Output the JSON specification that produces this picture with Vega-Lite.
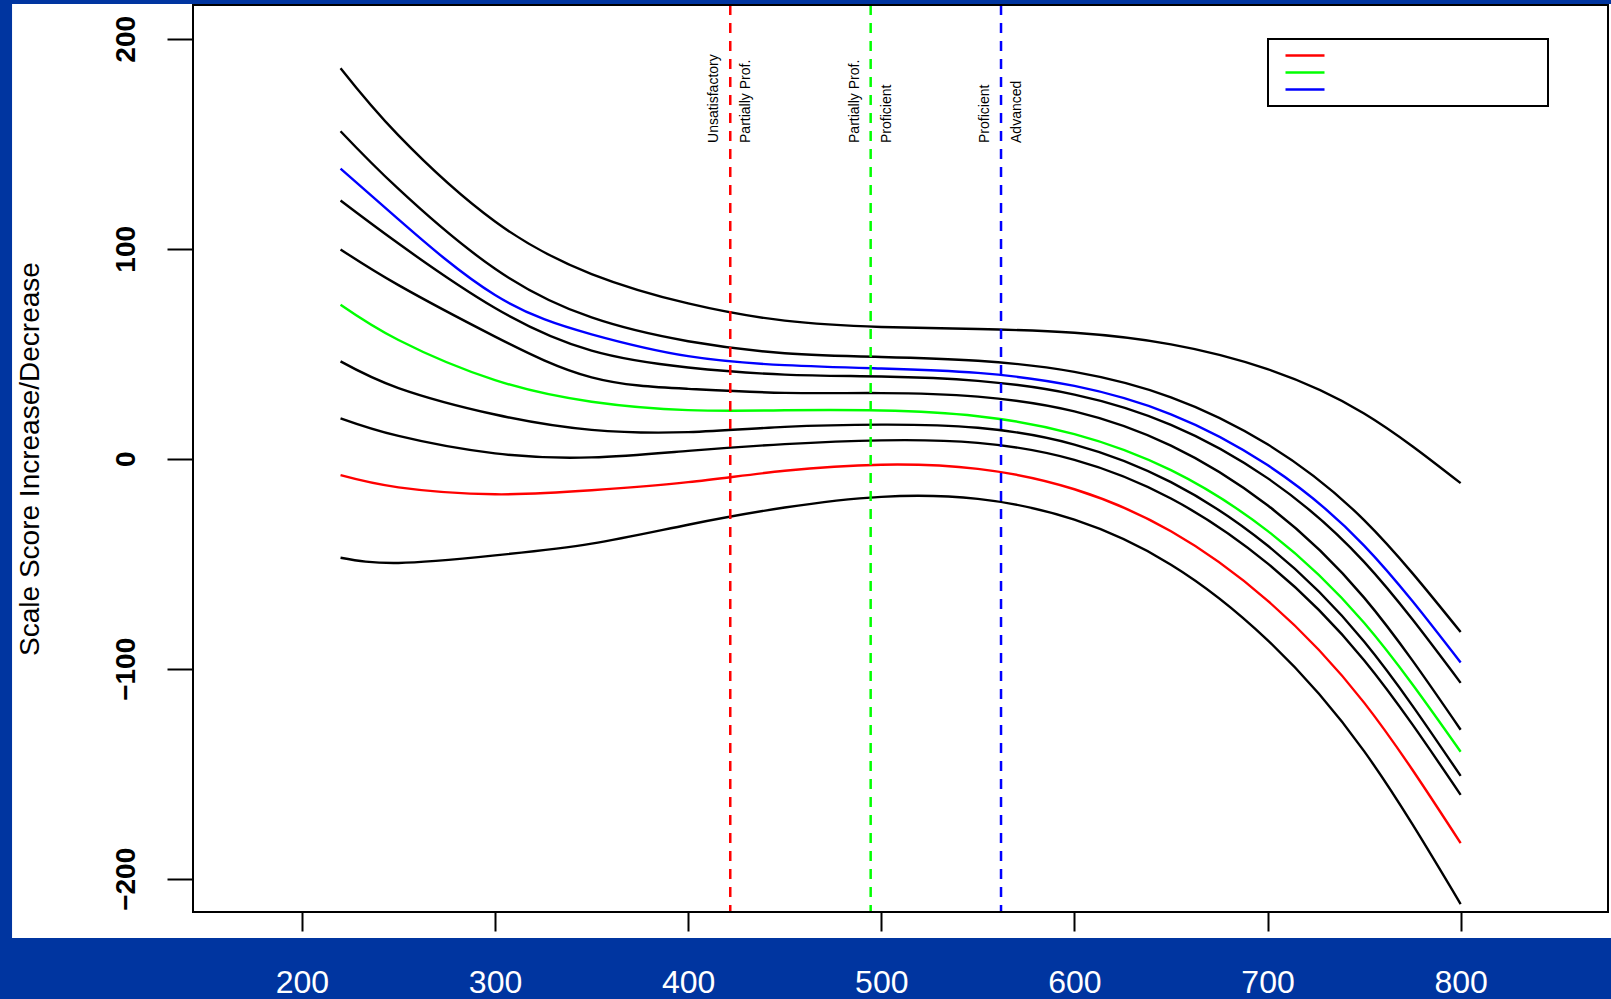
{
  "$schema": "https://vega.github.io/schema/vega-lite/v6.json",
  "width": 1415,
  "height": 907,
  "autosize": {"type": "none"},
  "padding": {"left": 193, "top": 5, "right": 3, "bottom": 87},
  "background": "#0035A0",
  "datasets": {
    "curves": [
      {"c":"c1","g":"black","x":220,"y":186},{"c":"c1","g":"black","x":250,"y":154},{"c":"c1","g":"black","x":300,"y":113},{"c":"c1","g":"black","x":350,"y":88},{"c":"c1","g":"black","x":400,"y":74},{"c":"c1","g":"black","x":450,"y":65.8},{"c":"c1","g":"black","x":500,"y":62.8},{"c":"c1","g":"black","x":550,"y":61.8},{"c":"c1","g":"black","x":600,"y":60},{"c":"c1","g":"black","x":650,"y":54.5},{"c":"c1","g":"black","x":700,"y":42.7},{"c":"c1","g":"black","x":750,"y":21.6},{"c":"c1","g":"black","x":800,"y":-11.6},
      {"c":"c2","g":"black","x":220,"y":156},{"c":"c2","g":"black","x":250,"y":128.5},{"c":"c2","g":"black","x":300,"y":90.5},{"c":"c2","g":"black","x":350,"y":67.3},{"c":"c2","g":"black","x":400,"y":56},{"c":"c2","g":"black","x":450,"y":50.3},{"c":"c2","g":"black","x":500,"y":48.5},{"c":"c2","g":"black","x":550,"y":46.7},{"c":"c2","g":"black","x":600,"y":41.4},{"c":"c2","g":"black","x":650,"y":29.3},{"c":"c2","g":"black","x":700,"y":6.9},{"c":"c2","g":"black","x":750,"y":-29.2},{"c":"c2","g":"black","x":800,"y":-82.5},
      {"c":"c3","g":"blue","x":220,"y":138.2},{"c":"c3","g":"blue","x":250,"y":114},{"c":"c3","g":"blue","x":300,"y":78},{"c":"c3","g":"blue","x":350,"y":59.3},{"c":"c3","g":"blue","x":400,"y":48.9},{"c":"c3","g":"blue","x":450,"y":44.6},{"c":"c3","g":"blue","x":500,"y":43},{"c":"c3","g":"blue","x":550,"y":40.9},{"c":"c3","g":"blue","x":600,"y":34.7},{"c":"c3","g":"blue","x":650,"y":21.2},{"c":"c3","g":"blue","x":700,"y":-3},{"c":"c3","g":"blue","x":750,"y":-41.3},{"c":"c3","g":"blue","x":800,"y":-97},
      {"c":"c4","g":"black","x":220,"y":123},{"c":"c4","g":"black","x":250,"y":102.5},{"c":"c4","g":"black","x":300,"y":71.8},{"c":"c4","g":"black","x":350,"y":51.5},{"c":"c4","g":"black","x":400,"y":43.5},{"c":"c4","g":"black","x":450,"y":40.1},{"c":"c4","g":"black","x":500,"y":39.2},{"c":"c4","g":"black","x":550,"y":37.1},{"c":"c4","g":"black","x":600,"y":30.6},{"c":"c4","g":"black","x":650,"y":16.2},{"c":"c4","g":"black","x":700,"y":-9.2},{"c":"c4","g":"black","x":750,"y":-49.1},{"c":"c4","g":"black","x":800,"y":-106.7},
      {"c":"c5","g":"black","x":220,"y":99.7},{"c":"c5","g":"black","x":250,"y":82.7},{"c":"c5","g":"black","x":300,"y":58.2},{"c":"c5","g":"black","x":350,"y":38.8},{"c":"c5","g":"black","x":400,"y":33.3},{"c":"c5","g":"black","x":450,"y":31.4},{"c":"c5","g":"black","x":500,"y":31.3},{"c":"c5","g":"black","x":550,"y":29.6},{"c":"c5","g":"black","x":600,"y":22.6},{"c":"c5","g":"black","x":650,"y":6.3},{"c":"c5","g":"black","x":700,"y":-22.1},{"c":"c5","g":"black","x":750,"y":-66.1},{"c":"c5","g":"black","x":800,"y":-129},
      {"c":"c6","g":"green","x":220,"y":73.4},{"c":"c6","g":"green","x":250,"y":56.6},{"c":"c6","g":"green","x":300,"y":37.5},{"c":"c6","g":"green","x":350,"y":27.2},{"c":"c6","g":"green","x":400,"y":23.2},{"c":"c6","g":"green","x":450,"y":23.1},{"c":"c6","g":"green","x":500,"y":23},{"c":"c6","g":"green","x":550,"y":20.3},{"c":"c6","g":"green","x":600,"y":11.8},{"c":"c6","g":"green","x":650,"y":-5.4},{"c":"c6","g":"green","x":700,"y":-34.3},{"c":"c6","g":"green","x":750,"y":-78.1},{"c":"c6","g":"green","x":800,"y":-139.5},
      {"c":"c7","g":"black","x":220,"y":46.4},{"c":"c7","g":"black","x":250,"y":33.7},{"c":"c7","g":"black","x":300,"y":21.1},{"c":"c7","g":"black","x":350,"y":13.8},{"c":"c7","g":"black","x":400,"y":12.7},{"c":"c7","g":"black","x":450,"y":15.2},{"c":"c7","g":"black","x":500,"y":16.3},{"c":"c7","g":"black","x":550,"y":14.8},{"c":"c7","g":"black","x":600,"y":6.8},{"c":"c7","g":"black","x":650,"y":-11.1},{"c":"c7","g":"black","x":700,"y":-41.3},{"c":"c7","g":"black","x":750,"y":-87},{"c":"c7","g":"black","x":800,"y":-151},
      {"c":"c8","g":"black","x":220,"y":19.3},{"c":"c8","g":"black","x":250,"y":10.9},{"c":"c8","g":"black","x":300,"y":2.6},{"c":"c8","g":"black","x":350,"y":0.7},{"c":"c8","g":"black","x":400,"y":3.8},{"c":"c8","g":"black","x":450,"y":7},{"c":"c8","g":"black","x":500,"y":8.8},{"c":"c8","g":"black","x":550,"y":7.6},{"c":"c8","g":"black","x":600,"y":-0.5},{"c":"c8","g":"black","x":650,"y":-18.9},{"c":"c8","g":"black","x":700,"y":-49.8},{"c":"c8","g":"black","x":750,"y":-95.9},{"c":"c8","g":"black","x":800,"y":-160},
      {"c":"c9","g":"red","x":220,"y":-7.8},{"c":"c9","g":"red","x":250,"y":-13.6},{"c":"c9","g":"red","x":300,"y":-16.9},{"c":"c9","g":"red","x":350,"y":-15},{"c":"c9","g":"red","x":400,"y":-11.1},{"c":"c9","g":"red","x":450,"y":-5.7},{"c":"c9","g":"red","x":500,"y":-2.8},{"c":"c9","g":"red","x":550,"y":-4.8},{"c":"c9","g":"red","x":600,"y":-14.5},{"c":"c9","g":"red","x":650,"y":-34.5},{"c":"c9","g":"red","x":700,"y":-67.5},{"c":"c9","g":"red","x":750,"y":-116.1},{"c":"c9","g":"red","x":800,"y":-183},
      {"c":"c10","g":"black","x":220,"y":-47.1},{"c":"c10","g":"black","x":250,"y":-49.6},{"c":"c10","g":"black","x":300,"y":-46},{"c":"c10","g":"black","x":350,"y":-40.4},{"c":"c10","g":"black","x":400,"y":-31.4},{"c":"c10","g":"black","x":450,"y":-23.2},{"c":"c10","g":"black","x":500,"y":-18.1},{"c":"c10","g":"black","x":550,"y":-19.1},{"c":"c10","g":"black","x":600,"y":-29},{"c":"c10","g":"black","x":650,"y":-50.4},{"c":"c10","g":"black","x":700,"y":-86.3},{"c":"c10","g":"black","x":750,"y":-139.2},{"c":"c10","g":"black","x":800,"y":-212}
    ],
    "cuts": [
      {"x": 421.8, "g": "red", "left": "Unsatisfactory", "right": "Partially Prof."},
      {"x": 494.5, "g": "green", "left": "Partially Prof.", "right": "Proficient"},
      {"x": 562.0, "g": "blue", "left": "Proficient", "right": "Advanced"}
    ]
  },
  "layer": [
    {
      "data": {"values": [{}]},
      "mark": {"type": "rect", "color": "white", "clip": false},
      "encoding": {
        "x": {"datum": 49.9, "type": "quantitative", "scale": {"domain": [143.6, 876.3], "nice": false, "zero": false}},
        "x2": {"datum": 877.9},
        "y": {"datum": -228.2, "type": "quantitative", "scale": {"domain": [-215.8, 216.1], "nice": false, "zero": false}},
        "y2": {"datum": 216.6}
      }
    },
    {
      "data": {"name": "curves"},
      "mark": {"type": "line", "interpolate": "natural", "strokeWidth": 2.4},
      "encoding": {
        "x": {"field": "x", "type": "quantitative", "scale": {"domain": [143.6, 876.3], "nice": false, "zero": false},
              "axis": {"zindex": 1, "title": null, "values": [200, 300, 400, 500, 600, 700, 800], "tickSize": 19, "labelColor": "white", "labelFontSize": 32, "labelBaseline": "alphabetic", "labelPadding": 61}},
        "y": {"field": "y", "type": "quantitative", "scale": {"domain": [-215.8, 216.1], "nice": false, "zero": false},
              "axis": {"zindex": 1, "title": "Scale Score Increase/Decrease", "values": [-200, -100, 0, 100, 200], "tickSize": 26, "labelColor": "black", "labelFontSize": 28, "labelFontWeight": "bold", "labelAngle": 270, "labelAlign": "center", "labelBaseline": "alphabetic", "labelPadding": 33, "titleFontSize": 28, "titleFontWeight": "normal", "titleColor": "black", "titlePadding": 68}},
        "detail": {"field": "c"},
        "color": {"field": "g", "type": "nominal",
                  "scale": {"domain": ["red", "green", "blue", "black"], "range": ["#FF0000", "#00FF00", "#0000FF", "#000000"]},
                  "legend": {"values": ["red", "green", "blue"], "title": null, "orient": "none", "legendX": 1075, "legendY": 34,
                             "symbolType": "stroke", "symbolSize": 1521, "symbolStrokeWidth": 2.4, "clipHeight": 17, "rowPadding": 0,
                             "padding": 8, "symbolOffset": 8, "labelExpr": "''", "labelOffset": 214,
                             "fillColor": "white", "strokeColor": "black"}}
      }
    },
    {
      "data": {"name": "cuts"},
      "mark": {"type": "rule", "strokeDash": [10, 8], "strokeWidth": 2.5},
      "encoding": {
        "x": {"field": "x", "type": "quantitative", "scale": {"domain": [143.6, 876.3], "nice": false, "zero": false}},
        "color": {"field": "g", "type": "nominal"}
      }
    },
    {
      "data": {"name": "cuts"},
      "mark": {"type": "text", "angle": 270, "align": "left", "baseline": "middle", "dy": -16, "fontSize": 14, "font": "Liberation Sans", "color": "black"},
      "encoding": {
        "x": {"field": "x", "type": "quantitative", "scale": {"domain": [143.6, 876.3], "nice": false, "zero": false}},
        "y": {"datum": 150.4, "type": "quantitative", "scale": {"domain": [-215.8, 216.1], "nice": false, "zero": false}},
        "text": {"field": "left"}
      }
    },
    {
      "data": {"name": "cuts"},
      "mark": {"type": "text", "angle": 270, "align": "left", "baseline": "middle", "dy": 16, "fontSize": 14, "font": "Liberation Sans", "color": "black"},
      "encoding": {
        "x": {"field": "x", "type": "quantitative", "scale": {"domain": [143.6, 876.3], "nice": false, "zero": false}},
        "y": {"datum": 150.4, "type": "quantitative", "scale": {"domain": [-215.8, 216.1], "nice": false, "zero": false}},
        "text": {"field": "right"}
      }
    },
    {
      "data": {"values": [{}]},
      "mark": {"type": "rect", "filled": false, "stroke": "black", "strokeWidth": 2, "clip": false},
      "encoding": {
        "x": {"datum": 143.6, "type": "quantitative", "scale": {"domain": [143.6, 876.3], "nice": false, "zero": false}},
        "x2": {"datum": 876.3},
        "y": {"datum": -215.8, "type": "quantitative", "scale": {"domain": [-215.8, 216.1], "nice": false, "zero": false}},
        "y2": {"datum": 216.1}
      }
    }
  ],
  "config": {
    "view": {"stroke": null},
    "font": "Liberation Sans",
    "axis": {"zindex": 1, "domain": false, "grid": false, "tickColor": "black", "tickWidth": 2, "labelFont": "Liberation Sans", "titleFont": "Liberation Sans"},
    "legend": {"strokeWidth": 2}
  }
}
